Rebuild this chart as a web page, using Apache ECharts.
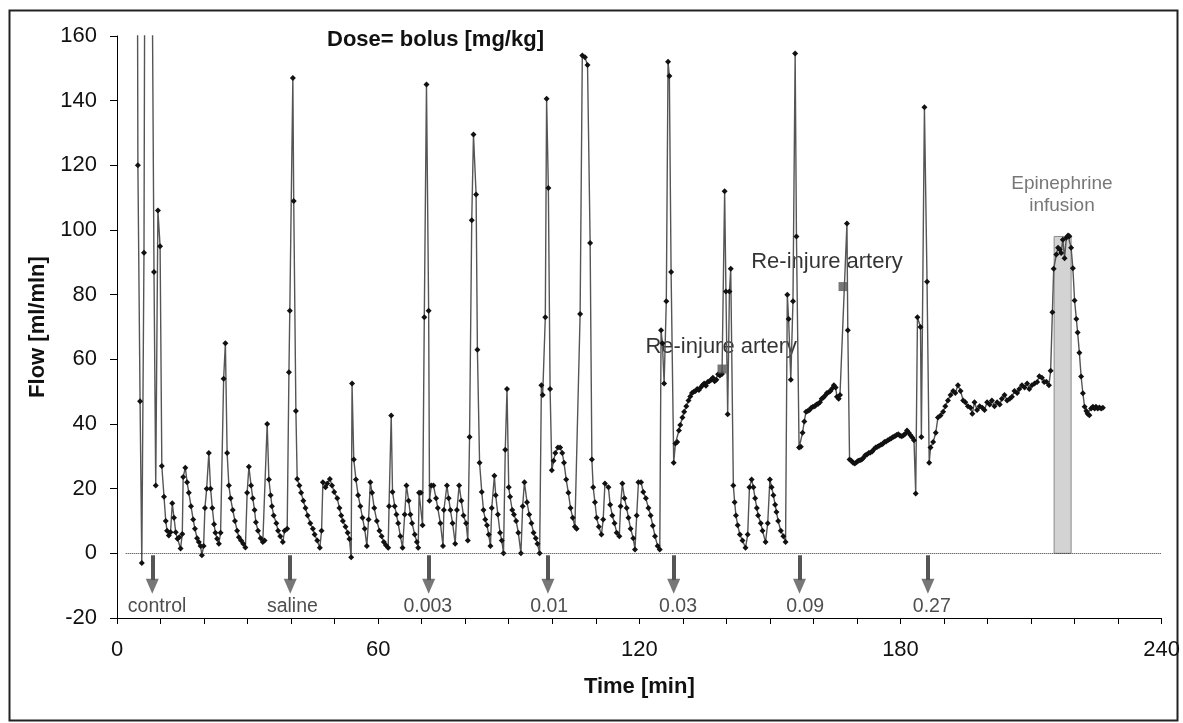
<!DOCTYPE html>
<html>
<head>
<meta charset="utf-8">
<script src="https://cdn.jsdelivr.net/npm/echarts@6/dist/echarts.min.js"></script>
<style>
  html, body { margin: 0; padding: 0; background: #fff; }
  #chart { width: 1183px; height: 723px; }
</style>
</head>
<body>
<div id="chart"></div>
<script>
// ---- Data (time [min], flow [ml/min]) ----
const controlPhase = [
  [4.5, 300], [4.8, 120], [5.3, 47], [5.7, -3], [6.2, 93], [6.8, 400], [7.9, 220], [8.5, 87],
  [8.9, 21], [9.4, 106], [9.9, 95], [10.3, 27], [10.8, 17.5], [11.2, 10], [11.5, 7], [11.9, 5.5],
  [12.3, 6.5], [12.7, 15.5], [13.1, 11], [13.5, 6.5], [13.9, 4.5], [14.3, 5], [14.6, 1.5], [15.0, 6],
  [15.2, 23.6], [15.7, 26.5], [16.1, 22], [16.5, 18.7], [17.0, 14.6], [17.5, 10.5], [17.9, 7.6],
  [18.4, 4.7], [18.8, 3.5], [19.2, 2.3], [19.5, -0.6], [19.9, 2.3], [20.2, 14], [20.6, 20], [21.1, 31],
  [21.5, 20], [21.9, 14], [22.3, 9], [22.6, 6.4], [23.0, 4.5], [23.4, 3], [23.8, 6.4], [24.5, 54],
  [24.9, 65], [25.3, 31], [25.7, 21], [26.1, 17], [26.6, 13.4], [27.1, 10], [27.6, 7], [28.0, 5],
  [28.5, 4], [29.0, 3], [29.5, 1.8], [29.9, 18.7], [30.3, 26.8], [30.8, 21], [31.2, 17], [31.6, 13.4],
  [31.9, 9.6], [32.4, 7], [33.0, 4.7], [33.5, 3.5], [33.9, 4], [34.5, 40], [34.9, 22.8], [35.3, 18],
  [35.6, 14.6], [36.0, 11.7], [36.6, 9.3], [37.0, 7], [37.5, 5.3], [38.1, 3.5], [38.5, 7], [39.1, 7.6]
];
const salinePhase = [
  [39.5, 56], [39.7, 75], [40.4, 147], [40.6, 109], [41.1, 44], [41.4, 23], [41.9, 21], [42.3, 18.7],
  [42.8, 16.3], [43.3, 14], [43.8, 11.7], [44.4, 9.3], [45.0, 7.6], [45.4, 5.8], [46.0, 4], [46.6, 1.75],
  [47.0, 7], [47.3, 22], [47.9, 20.4], [48.3, 21.6], [48.9, 23], [49.4, 21], [49.9, 19], [50.6, 17],
  [51.1, 14], [51.5, 11.7], [51.9, 10], [52.5, 8.2], [53.0, 6.4], [53.4, 4.4], [53.8, -1.2], [54.0, 52.5],
  [54.4, 29], [54.9, 22.8], [55.4, 18], [55.9, 14.6], [56.4, 11], [56.9, 7.6], [57.4, 2.3], [57.8, 10.5],
  [58.2, 22], [58.6, 18.7], [59.1, 14], [59.7, 10], [60.3, 7], [60.8, 5.3], [61.3, 3.5], [61.8, 2.5],
  [62.3, 1.75], [62.5, 14.6], [63.0, 42.6], [63.3, 19], [63.8, 14.6], [64.2, 12], [64.6, 9.3], [65.1, 5.3],
  [65.6, 1.75], [66.1, 12], [66.5, 21], [67.0, 16.3], [67.4, 12], [67.8, 9.3], [68.4, 5.8], [68.9, 3.5],
  [69.2, 1.75], [69.4, 18.7], [69.8, 18.7], [70.2, 8.7]
];
const dose0003Phase = [
  [70.6, 73], [71.1, 145], [71.6, 75], [71.8, 16.3], [72.2, 21], [72.7, 21], [73.3, 17], [73.7, 14],
  [74.3, 9.3], [74.9, 2.3], [75.1, 13.4], [75.8, 21], [76.2, 17], [76.6, 13.4], [77.1, 9.3], [77.7, 3],
  [78.1, 13.4], [78.6, 21], [79.1, 16.3], [79.6, 11.7], [80.2, 9.3], [80.6, 4], [81.0, 36], [81.5, 103],
  [81.9, 129.5], [82.5, 111], [82.8, 63], [83.3, 28], [83.8, 19], [84.2, 13.4], [84.6, 10.5], [85.0, 8.7],
  [85.4, 5.8], [85.8, 2.3], [86.1, 14], [86.7, 24], [87.0, 18], [87.5, 12], [88.0, 6.4], [88.4, 4],
  [88.8, 0], [89.2, 32], [89.6, 50.8], [90.0, 20.4], [90.3, 17.5], [90.8, 13.4], [91.2, 12], [91.7, 10],
  [92.2, 6.4], [92.8, 0], [93.2, 14.6], [93.6, 22], [94.2, 15.8], [94.7, 12], [95.2, 9.3], [95.7, 6.4],
  [96.2, 4.7], [96.6, 3], [97.1, 0]
];
const dose001Phase = [
  [97.5, 52], [97.8, 49], [98.4, 73], [98.7, 140.6], [99.1, 113], [99.5, 50.8], [99.9, 25.7], [100.3, 28.6],
  [100.7, 31], [101.3, 32.7], [101.8, 32.7], [102.3, 31], [102.7, 28], [103.2, 22.8], [103.7, 18.7],
  [104.2, 14], [104.7, 11], [105.2, 8.2], [105.6, 7.6], [106.4, 74], [106.9, 154], [107.5, 153.4],
  [108.1, 151], [108.7, 96], [109.1, 29], [109.4, 20.4], [109.8, 15.8], [110.2, 11], [110.7, 8.2],
  [111.3, 5.8], [111.7, 10.5], [112.1, 21.6], [112.9, 20.4], [113.3, 15], [113.8, 11.7], [114.3, 9.3],
  [114.8, 6.4], [115.4, 5.3], [115.7, 14.6], [116.1, 21.6], [116.6, 17], [117.1, 14], [117.5, 11],
  [118.0, 7.6], [118.6, 4.7], [119.0, 1.2], [119.4, 11.7], [119.8, 22], [120.4, 22], [120.9, 19],
  [121.5, 17], [122.1, 14], [122.6, 11.7], [123.1, 8.5], [123.6, 5.3], [124.2, 2.3], [124.7, 1.2]
];
const dose003Phase = [
  [125.0, 69], [125.3, 65], [125.7, 52.5], [126.2, 78], [126.6, 152], [126.9, 147.6], [127.3, 87],
  [127.9, 28], [128.3, 34], [128.7, 34.4], [129.1, 38], [129.4, 39.7], [129.9, 42], [130.3, 43.8],
  [130.8, 45.5], [131.3, 47.3], [131.7, 48.5], [132.1, 49.6], [132.5, 50], [132.9, 50.2], [133.3, 50.8],
  [133.7, 50.5], [134.1, 51.3], [134.5, 52], [134.9, 52.5], [135.3, 51.8], [135.7, 53], [136.1, 53.2],
  [136.5, 53.7], [136.9, 54.3], [137.3, 53.2], [137.7, 53.7], [138.1, 55.4], [138.5, 55], [139.0, 55.5],
  [139.6, 112], [139.9, 81], [140.3, 43], [140.7, 81], [141.0, 88], [141.6, 21], [141.9, 15.8],
  [142.2, 11.7], [142.6, 8.7], [143.1, 5.8], [143.7, 4], [144.4, 1.75], [144.9, 5.8], [145.3, 20.4],
  [145.8, 22.8], [146.2, 20.4], [146.6, 17], [147.0, 14], [147.3, 11.7], [147.9, 9.3], [148.3, 7],
  [149.0, 3.5], [149.5, 9.3], [150.0, 22.8], [150.4, 20.4], [150.8, 18], [151.2, 15], [151.5, 12.8],
  [151.9, 10], [152.5, 7], [153.1, 5.3], [153.6, 3.5]
];
const dose009Phase = [
  [154.0, 80], [154.3, 72.5], [154.8, 53.7], [155.3, 78], [155.8, 154.6], [156.1, 98], [156.7, 32.7],
  [157.1, 33], [157.5, 37.3], [157.9, 40.8], [158.3, 43.8], [158.7, 44], [159.1, 44.3], [159.5, 45],
  [159.9, 45.3], [160.3, 45.5], [160.7, 46], [161.1, 46.3], [161.5, 46.7], [161.9, 47.8], [162.3, 48.2],
  [162.7, 48.8], [163.1, 49.6], [163.5, 49.8], [163.9, 50.2], [164.3, 51], [164.7, 52], [165.1, 51.3],
  [165.4, 48.4], [165.8, 47.8], [166.1, 49], [167.7, 102], [167.9, 69], [168.3, 29], [168.7, 28.6],
  [169.1, 28], [169.5, 27.8], [169.9, 28.2], [170.3, 28.6], [170.7, 28.8], [171.1, 29], [171.5, 29.6],
  [171.9, 30.3], [172.3, 30.6], [172.7, 31], [173.1, 31.2], [173.5, 31.5], [173.9, 32.2], [174.3, 32.7],
  [174.7, 33], [175.1, 33.3], [175.5, 33.6], [175.9, 33.8], [176.3, 34.4], [176.7, 34.6], [177.1, 35],
  [177.5, 35.3], [177.9, 35.6], [178.3, 36], [178.7, 36.2], [179.1, 36.6], [179.5, 36.8], [179.9, 36.4],
  [180.3, 36.2], [180.7, 36.5], [181.1, 37], [181.5, 38], [181.9, 37.3], [182.3, 36.5], [182.7, 35.8],
  [183.1, 35], [183.5, 18.5], [183.9, 73], [184.6, 70], [184.8, 36], [185.5, 138], [186.1, 84]
];
const dose027Phase = [
  [186.6, 28], [186.9, 32.7], [187.5, 34.4], [188.1, 37.3], [188.6, 42], [189.2, 42.6], [189.8, 43.8],
  [190.3, 45.5], [190.9, 47.3], [191.5, 49], [192.1, 50.2], [192.6, 49.6], [193.2, 52], [193.8, 50.2],
  [194.4, 47.3], [194.9, 46.7], [195.5, 45.5], [196.1, 45], [196.5, 43.2], [197.0, 46.7], [197.6, 44.3],
  [198.2, 45.5], [198.8, 45], [199.3, 44.3], [199.9, 46.7], [200.5, 46], [201.0, 47.3], [201.6, 45.5],
  [202.2, 46.7], [202.8, 46], [203.3, 47.8], [203.9, 49], [204.5, 47.3], [205.1, 47.8], [205.6, 48.4],
  [206.2, 50.2], [206.8, 49.6], [207.3, 50.8], [207.9, 52], [208.5, 51.3], [209.1, 52.5], [209.6, 50.8],
  [210.2, 52], [210.8, 52.5], [211.4, 53], [211.9, 54.8], [212.5, 54.3], [213.0, 53], [213.5, 53.1],
  [214.1, 52], [214.5, 56.5]
];
const epinephrinePhase = [
  [214.9, 74.6], [215.2, 88], [215.8, 92.4], [216.2, 94.5], [216.6, 94], [216.9, 92.9], [217.3, 97],
  [217.7, 91.3], [218.1, 97.6], [218.5, 98.3], [218.8, 98.1], [219.2, 94.5], [219.6, 88.2], [220.0, 78.2],
  [220.4, 72.5], [220.7, 68.3], [221.1, 62], [221.5, 54.7], [221.9, 49.5], [222.3, 45.3], [222.7, 44],
  [223.0, 43.2], [223.4, 42.7], [223.8, 44.8], [224.2, 45.3], [224.6, 44.8], [224.9, 45.3], [225.3, 44.8],
  [225.7, 45.1], [226.1, 44.8], [226.5, 45]
];

// re-injure artery markers (time, flow)
const reinjureMarks = [[139.0, 57], [166.8, 82.5]];
// dose bolus arrows: time of bolus, label
const doseTimes = [8.1, 39.8, 71.6, 99.0, 127.9, 156.8, 186.3];
const doseLabelTimes = [9.2, 40.3, 71.4, 99.3, 128.9, 158.1, 187.2];
const doseLabels = ['control', 'saline', '0.003', '0.01', '0.03', '0.09', '0.27'];
// epinephrine infusion window (time start, time end, top flow)
const infusionWindow = [215.3, 219.2, 98];
// axis ticks
const xTicks = [0, 60, 120, 180, 240];

const FONT = 'Liberation Sans, Arial, sans-serif';
const flowData = [].concat(controlPhase, salinePhase, dose0003Phase, dose001Phase,
  dose003Phase, dose009Phase, dose027Phase, epinephrinePhase);

const arrowShafts = doseTimes.map(t => [{ coord: [t, -0.6] }, { coord: [t, -8.3] }]);
const arrowHeads = doseTimes.map(t => [t, -10.2]);

const chart = echarts.init(document.getElementById('chart'), null, { renderer: 'canvas' });
chart.setOption({
  backgroundColor: '#ffffff',
  animation: false,
  title: {
    text: 'Dose= bolus [mg/kg]', left: 327, top: 29, padding: 0,
    textStyle: { fontFamily: FONT, fontWeight: 'bold', fontSize: 22, color: '#111' }
  },
  graphic: [{
    type: 'rect', left: 7, top: 8, silent: true,
    shape: { width: 1168, height: 710 },
    style: { fill: null, stroke: '#222', lineWidth: 2 }
  }],
  grid: { left: 117, right: 19, top: 36, bottom: 105 },
  xAxis: {
    type: 'value', min: 0, max: 240, interval: 10,
    name: 'Time [min]', nameLocation: 'middle', nameGap: 58,
    nameTextStyle: { fontFamily: FONT, fontWeight: 'bold', fontSize: 22, color: '#111' },
    axisLine: { show: true, onZero: false, lineStyle: { color: '#000', width: 1 } },
    axisTick: { show: true, length: 6, lineStyle: { color: '#000' } },
    axisLabel: {
      margin: 21, fontFamily: FONT, fontSize: 22, color: '#111',
      formatter: v => (xTicks.indexOf(v) >= 0 ? String(v) : '')
    },
    splitLine: { show: false }
  },
  yAxis: {
    type: 'value', min: -20, max: 160, interval: 20,
    name: 'Flow [ml/mln]', nameLocation: 'middle', nameGap: 64,
    nameTextStyle: { fontFamily: FONT, fontWeight: 'bold', fontSize: 22, color: '#111' },
    axisLine: { show: true, lineStyle: { color: '#000', width: 1 } },
    axisTick: { show: true, length: 7, lineStyle: { color: '#000' } },
    axisLabel: { margin: 20, fontFamily: FONT, fontSize: 22, color: '#111' },
    splitLine: { show: false }
  },
  series: [
    {
      name: 'infusion', type: 'line', data: [], z: 1, silent: true,
      markArea: {
        silent: true,
        itemStyle: { color: '#d3d3d3', borderColor: '#8a8a8a', borderWidth: 1 },
        data: [[{ coord: [infusionWindow[0], 0] }, { coord: [infusionWindow[1], infusionWindow[2]] }]]
      }
    },
    {
      name: 'notes', type: 'scatter', z: 2, symbolSize: 0, silent: true,
      data: [
        { value: [121.4, 63.9], name: 'Re-injure artery',
          label: { align: 'left', fontSize: 22, color: '#000' } },
        { value: [145.7, 90.2], name: 'Re-injure artery',
          label: { align: 'left', fontSize: 22, color: '#000' } },
        { value: [217.1, 110.8], name: 'Epinephrine\ninfusion',
          label: { align: 'center', fontSize: 19, lineHeight: 22, color: '#555' } }
      ],
      label: {
        show: true, position: 'inside', verticalAlign: 'middle',
        formatter: p => p.name, fontFamily: FONT
      }
    },
    {
      name: 'guides', type: 'line', data: [], z: 2, silent: true,
      markLine: {
        silent: true, animation: false,
        symbol: ['none', 'none'],
        label: { show: false },
        lineStyle: { type: 'dotted', color: '#333', width: 1 },
        data: [[{ coord: [2, 0] }, { coord: [240, 0] }]]
      }
    },
    {
      name: 'arrowShafts', type: 'line', data: [], z: 2, silent: true,
      markLine: {
        silent: true, animation: false,
        symbol: ['none', 'none'],
        label: { show: false },
        lineStyle: { type: 'solid', color: '#555', width: 4 },
        data: arrowShafts
      }
    },
    {
      name: 'arrowHeads', type: 'scatter', data: arrowHeads, z: 2, silent: true,
      symbol: 'triangle', symbolRotate: 180, symbolSize: [13, 15],
      itemStyle: { color: '#555' }
    },
    {
      name: 'Flow', type: 'line', data: flowData, z: 3,
      showAllSymbol: true, symbol: 'diamond', symbolSize: 6,
      itemStyle: { color: '#111' },
      lineStyle: { color: '#555', width: 1.4 },
      clip: true
    },
    {
      name: 'reinjure', type: 'scatter', data: reinjureMarks, z: 4,
      symbol: 'rect', symbolSize: 9, itemStyle: { color: '#555' }
    },
    {
      name: 'doseLabels', type: 'scatter', z: 5, symbolSize: 0, silent: true,
      data: doseLabelTimes.map((t, i) => ({ value: [t, -16.6], name: doseLabels[i] })),
      label: {
        show: true, position: 'inside', formatter: p => p.name,
        fontFamily: FONT, fontSize: 19.5, color: '#222'
      }
    }
  ]
});
</script>
</body>
</html>
